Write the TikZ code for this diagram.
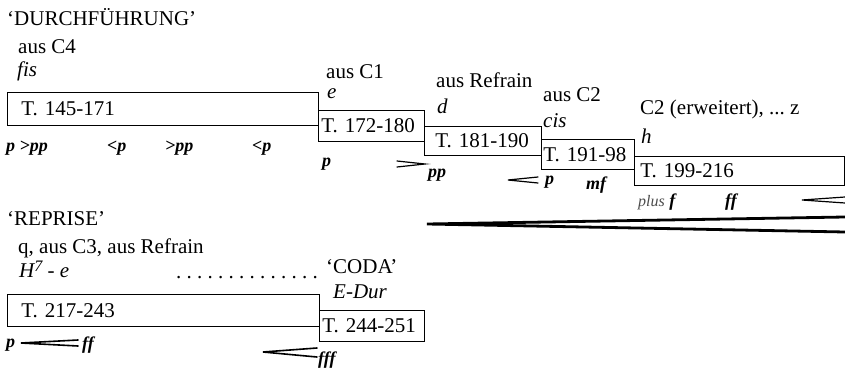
\documentclass[tikz,border=0pt]{standalone}
\usepackage{fontspec}
\setmainfont{Liberation Serif}

\begin{document}
\frenchspacing
\begin{tikzpicture}[x=1pt, y=-1pt,
    txt/.style={anchor=base west, inner sep=0pt, font=\fontsize{21}{25}\selectfont},
    tonart/.style={txt, font=\fontsize{21}{25}\selectfont\itshape},
    dyn/.style={anchor=base west, inner sep=0pt, font=\fontsize{18}{20}\selectfont\bfseries\itshape},
    takt/.style={draw, black, line width=0.8pt, anchor=north west, inner ysep=0pt, align=left, font=\fontsize{21}{25}\selectfont},
    gabel/.style={line width=1.2pt, line cap=round}]
    \useasboundingbox (0,0) rectangle (845,369);

    % Durchfuehrung
    \draw 
    (7, 92) node[takt, minimum height=33pt, inner xsep=14pt, text width=283pt](B1){T. 145-171}
    (318, 110) node[takt, minimum height=31pt, inner xsep=3pt, text width=100pt](B2){T. 172-180}
    (424, 126) node[takt, minimum height=29pt, inner xsep=11pt, text width=95pt](B3){T. 181-190}
    (541, 139) node[takt, minimum height=30pt, inner xsep=2pt, text width=89pt](B4){T. 191-98}
    (634, 156) node[takt, minimum height=29pt, inner xsep=6pt, text width=198pt](B5){T. 199-216};

    \draw 
    (7, 26) node[txt](durch){‘DURCHFÜHRUNG’}
    (18, 53) node[txt](ausC4){aus C4}
    (17, 77) node[tonart](fis){fis}
    (326, 78) node[txt](ausC1){aus C1}
    (327, 98) node[tonart](e){e}
    (436, 87) node[txt](ausRef){aus Refrain}
    (437, 113) node[tonart](d){d}
    (543, 101) node[txt](ausC2){aus C2}
    (543, 127) node[tonart](cis){cis}
    (640, 114) node[txt](erw){C2 (erweitert), ... z}
    (641, 143) node[tonart](h){h};

    \draw 
    (6, 151) node[dyn](d1){p >pp}
    (107, 151) node[dyn](d2){<p}
    (165, 151) node[dyn](d3){>pp}
    (252, 151) node[dyn](d4){<p}
    (322, 166) node[dyn](d5){p}
    (428, 177) node[dyn](d6){pp}
    (545, 184) node[dyn](d7){p}
    (586, 189) node[dyn](d8){mf}
    (638, 206) node[dyn](d9){\textcolor{black!70}{\mdseries\fontsize{16}{18}\selectfont plus} f}
    (725, 206) node[dyn](d10){ff};

    % Reprise und Coda
    \draw 
    (7, 294) node[takt, minimum height=32pt, inner xsep=14pt, text width=284pt](B6){T. 217-243}
    (319, 310) node[takt, minimum height=31pt, inner xsep=3pt, text width=99pt](B7){T. 244-251};

    \draw 
    (7, 225) node[txt](rep){‘REPRISE’}
    (18, 253) node[txt](ausC3){q, aus C3, aus Refrain}
    (19, 277) node[tonart](H7){H\raisebox{6pt}{\fontsize{16}{16}\selectfont 7} - e}
    (176, 278) node[txt](punkte){. . . . . . . . . . . . . .}
    (326, 273) node[txt](coda){‘CODA’}
    (333, 298) node[tonart](Edur){E-Dur}
    (6, 347) node[dyn](d11){p}
    (82, 349) node[dyn](d12){ff}
    (318, 364) node[dyn](d13){fff};

    % Gabeln
    \draw[gabel] (397, 161) -- (425, 164) -- (397, 167);
    \draw[gabel] (538, 177) -- (508, 180) -- (538, 183);
    \draw[gabel] (845, 197) -- (802, 200) -- (845, 203);
    \draw[gabel, line width=2.8pt] (845, 217) -- (427, 224) -- (845, 232);
    \draw[gabel, line width=1.6pt] (78, 340) -- (21, 343) -- (78, 346);
    \draw[gabel, line width=1.6pt] (317, 348) -- (263, 352) -- (317, 357);

  \end{tikzpicture}
\end{document}
